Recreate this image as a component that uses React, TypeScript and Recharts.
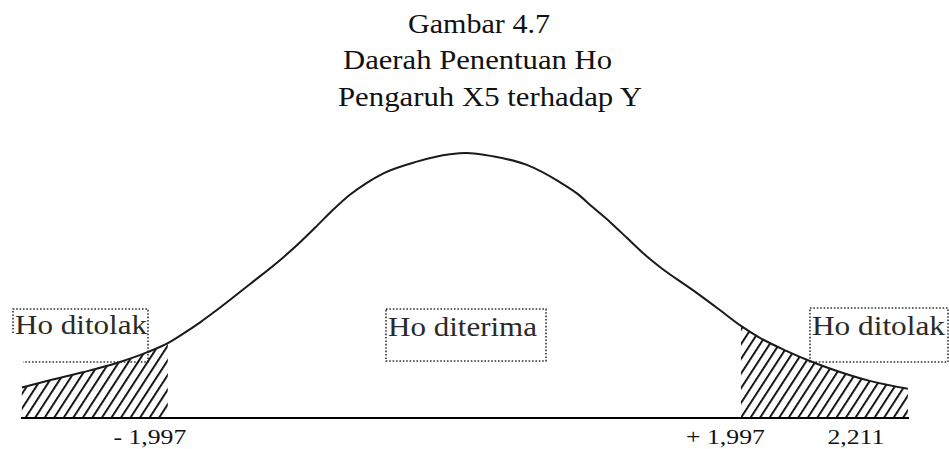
import { Area, ComposedChart, Line, XAxis, YAxis } from 'recharts'

// curve: t position along the axis and curve height
const T_VALUES = [
  -3.014, -2.819, -2.589, -2.352, -2.143, -1.997, -1.892, -1.774, -1.655, -1.425, -1.195, -1.077, -0.958, -0.847,
  -0.728, -0.61, -0.498, -0.261, -0.031, 0.08, 0.268, 0.505, 0.735, 0.854, 0.965, 1.084, 1.202, 1.314, 1.432, 1.662,
  1.85, 1.997, 2.129, 2.317, 2.477, 2.666, 2.895, 3.16,
]
const DENSITY = [
  0.046, 0.057, 0.069, 0.083, 0.099, 0.113, 0.127, 0.144, 0.163, 0.202, 0.242, 0.265, 0.29, 0.314, 0.337, 0.355,
  0.369, 0.387, 0.398, 0.4, 0.395, 0.382, 0.356, 0.339, 0.318, 0.296, 0.272, 0.249, 0.228, 0.193, 0.163, 0.139,
  0.121, 0.101, 0.086, 0.071, 0.056, 0.044,
]
const CRITICAL = 1.997

const TICK_POSITIONS = [-2.122, 1.889, 2.798]
const TICK_LABELS = ['- 1,997', '+ 1,997', '2,211']

const TITLE_LINES = ['Gambar 4.7', 'Daerah Penentuan Ho', 'Pengaruh X5 terhadap Y']
const REGION_LABELS = ['Ho ditolak', 'Ho diterima', 'Ho ditolak']

const FONT = "'Liberation Serif', 'Times New Roman', serif"

const chartData = T_VALUES.map((t, i) => ({
  t,
  y: DENSITY[i],
  left: t <= -CRITICAL + 1e-9 ? DENSITY[i] : null,
  right: t >= CRITICAL - 1e-9 ? DENSITY[i] : null,
}))

function TickLabel({ x, y, payload }: any) {
  const idx = TICK_POSITIONS.indexOf(payload.value)
  return (
    <text
      x={0}
      y={0}
      transform={`translate(${x},${y + 24}) scale(1.17,1)`}
      textAnchor="middle"
      style={{ fontFamily: FONT, fontSize: 22 }}
      fill="#111"
    >
      {idx >= 0 ? TICK_LABELS[idx] : ''}
    </text>
  )
}

const boxStyle = { fill: 'none', stroke: '#333', strokeWidth: 1.6, strokeDasharray: '1.6 1.8' }
const titleText = { style: { fontFamily: FONT, fontSize: 27 }, fill: '#111', lengthAdjust: 'spacingAndGlyphs' }
const regionText = { style: { fontFamily: FONT, fontSize: 28 }, fill: '#2a2a2a', lengthAdjust: 'spacingAndGlyphs' }

export default function App() {
  return (
    <div style={{ position: 'absolute', left: 0, top: 0, width: 949, height: 449, background: '#fff' }}>
      <ComposedChart width={949} height={449} data={chartData} margin={{ top: 153, right: 40, bottom: 1, left: 21 }}>
        <defs>
          <pattern id="hatch" patternUnits="userSpaceOnUse" width="8" height="8" patternTransform="rotate(33)">
            <line x1="0" y1="-1" x2="0" y2="9" stroke="#000" strokeWidth="3.6" />
          </pattern>
        </defs>

        {/* title */}
        <text x={408} y={33} textLength={142} {...titleText}>
          {TITLE_LINES[0]}
        </text>
        <text x={343} y={69} textLength={269} {...titleText}>
          {TITLE_LINES[1]}
        </text>
        <text x={338} y={106} textLength={304} {...titleText}>
          {TITLE_LINES[2]}
        </text>

        <XAxis
          type="number"
          dataKey="t"
          domain={[-3.02, 3.168]}
          ticks={TICK_POSITIONS}
          tick={<TickLabel />}
          tickLine={false}
          tickSize={0}
          height={30}
          axisLine={{ stroke: '#000', strokeWidth: 2 }}
          interval={0}
        />
        <YAxis hide domain={[0, 0.4]} />

        <Area dataKey="left" type="monotone" stroke="none" fill="url(#hatch)" fillOpacity={1} connectNulls={false} isAnimationActive={false} />
        <Area dataKey="right" type="monotone" stroke="none" fill="url(#hatch)" fillOpacity={1} connectNulls={false} isAnimationActive={false} />
        <Line dataKey="y" type="monotone" stroke="#1a1a1a" strokeWidth={2} dot={false} activeDot={false} isAnimationActive={false} />

        {/* region labels with dotted boxes */}
        <polyline points="13,333 13,309 148,309 148,362 23,362" {...boxStyle} />
        <rect x={386} y={309} width={160} height={52} {...boxStyle} />
        <rect x={810} y={308} width={138} height={54} {...boxStyle} />
        <text x={15} y={334} textLength={132} {...regionText}>
          {REGION_LABELS[0]}
        </text>
        <text x={388} y={336} textLength={149} {...regionText}>
          {REGION_LABELS[1]}
        </text>
        <text x={812} y={335} textLength={133} {...regionText}>
          {REGION_LABELS[2]}
        </text>
      </ComposedChart>
    </div>
  )
}
